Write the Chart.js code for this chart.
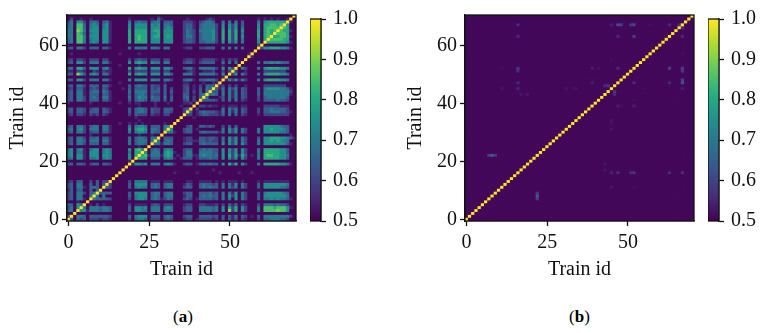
<!DOCTYPE html>
<html>
<head>
<meta charset="utf-8">
<title>Train id similarity</title>
<script src="https://cdn.jsdelivr.net/npm/chart.js@4"></script>
<style>
    body { margin: 0; background: #fff; width: 761px; height: 333px; overflow: hidden; }
    canvas { position: absolute; top: 0; filter: blur(0.35px); }
    .caption { position: absolute; top: 307px; font: 17px "Liberation Serif", serif; color: #000; }
</style>
</head>
<body>
<canvas id="heatA" width="300" height="282" style="left:0"></canvas>
<canvas id="barA" width="70" height="240" style="left:310px"></canvas>
<canvas id="heatB" width="300" height="282" style="left:398px"></canvas>
<canvas id="barB" width="55" height="240" style="left:708px"></canvas>
<div class="caption" style="left:173px">(<b>a</b>)</div>
<div class="caption" style="left:569px">(<b>b</b>)</div>
<script>
// tick labels
var xTicks = [0, 25, 50];
var yTicks = [0, 20, 40, 60];
var barTicks = [0.5, 0.6, 0.7, 0.8, 0.9, 1.0];
var trainIds = [];
for (var n = 0; n < 71; n++) {
    trainIds.push(String(n));
}

// panel (a), lower triangle, row 0 first. digit d = 0.5 + d * 0.05, a = 1.0
var rowsA = [
    "a",
    "3a",
    "00a",
    "340a",
    "2405a",
    "33054a",
    "000100a",
    "2304410a",
    "23044004a",
    "230442034a",
    "1303300303 a",
    "2304410343 0a",
    "2304400303 03a",
    "1203300203 022a",
    "0000000000 0000a",
    "0000000000 00000a",
    "0000000000 000000a",
    "0000000000 0000000a",
    "0000000000 00000000a",
    "2303320233 033200000a",
    "0000000000 0000000001 a",
    "3405510445 0454000005 0a",
    "4505510555 0554000005 06a",
    "4504410555 0454000004 066a",
    "3504510455 0454000005 0675a",
    "0000000000 0000000000 00100a",
    "2304420333 0331000004 034430a",
    "2304430444 0441000004 0344404a",
    "2304420334 0331000004 03443044a",
    "0000000100 0000000000 001000100a",
    "2304420233 0331000004 0455404330 a",
    "3404520444 0441000005 0566504430 4a",
    "2304420344 0441000004 0455403330 45a",
    "0000000000 0000001001 0101000000 100a",
    "0000000000 0000000000 0010000000 0000a",
    "0000000000 0000000000 0100000000 00000a",
    "1202210212 0210000002 0322202110 220000a",
    "2303320333 0331000003 0344303220 3320002a",
    "2303320233 0321000003 0344303220 33300023a",
    "0000000000 0000000000 0010000100 000001000a",
    "1000000100 0000001001 0110000100 0100001120 a",
    "2304420333 0331000003 0344303330 3030002302 0a",
    "2304420343 0441000004 0354404330 4030003402 03a",
    "2304410333 0331000003 0344303220 3020003301 034a",
    "2304410344 0431000004 0444403330 3030002302 0304a",
    "1203310232 0320000103 0333303230 3020002301 03043a",
    "2304420333 0331000003 0343303220 3000002201 020333a",
    "0000000000 0000001000 0000000000 1000001100 0010011a",
    "3305520444 0441000005 0555505440 4420003441 03344420a",
    "0000000000 0000000000 0000000000 0000000000 000000001a",
    "3308630454 0441000006 0565505550 5530004441 0444442050 a",
    "1102210021 0211000002 0222202220 2200000121 0011120020 2a",
    "3406630555 0451000006 0565505550 5530003441 0444442050 52a",
    "0000000000 0000001000 0010000000 0000000000 0000000010 000a",
    "2305520444 0441000005 0565505440 4400002331 0233330040 4040a",
    "1202210222 0220000002 0232202220 2200001221 0122221020 21200a",
    "0000000000 0000000000 0000000000 0000000000 0000000000 000000a",
    "0100000000 0000001000 0010000000 0000000000 0000000000 0000001a",
    "0000000000 0000000000 0000000000 0000000000 0000000000 00000000a",
    "2304420333 0331000004 0444404430 4400001220 0223330040 404030000a",
    "0000000000 0000000000 0000000000 0000000000 0000000000 0000000002 a",
    "3407740454 0551000006 0666605550 5550002332 0334442050 5250400005 0a",
    "3407740455 0551000006 0676605550 5550002332 0344452060 6260400005 06a",
    "4407740555 0551000006 0676605660 5650002442 0344452060 6260500006 067a",
    "4407630455 0551000006 0666605560 5550002432 0344452060 6260400006 0676a",
    "4408740555 0551000006 0666605660 5550002432 0444452060 6260500006 06767a",
    "3407730455 0451000005 0555505550 4540002331 0344442050 5250400005 067777a",
    "3407730454 0451000005 0555505450 4430002331 0344442050 5250300005 0667767a",
    "2405520343 0341000004 0343303440 3330002221 0234430040 4040300004 05666666a",
    "0200100100 0000000001 0000001031 0000000100 0001210000 0000000001 010101001a",
    "0000000000 0000000000 0000000010 0000000000 0000000000 0000000000 0000000000 a"
];

// panel (b), the few cells that stand out from the background
var hotColsB = [16, 16, 16, 16, 16, 16, 11, 11, 8, 7, 9, 22, 45, 47, 52, 51, 63, 67, 66, 47, 52, 67, 39, 41, 47, 63, 39, 52, 63, 67, 67, 43, 44, 46, 31, 33, 55, 67, 52, 48, 52, 45, 45, 57, 19, 17];
var hotRowsB = [67, 63, 52, 51, 47, 45, 45, 52, 22, 22, 22, 8, 67, 67, 67, 67, 67, 66, 67, 63, 63, 63, 52, 52, 52, 52, 47, 47, 47, 47, 48, 46, 46, 43, 45, 45, 45, 45, 41, 39, 39, 34, 31, 67, 43, 43];
var hotValsB = [0.56, 0.56, 0.58, 0.56, 0.56, 0.55, 0.53, 0.52, 0.65, 0.6, 0.58, 0.65, 0.53, 0.58, 0.6, 0.58, 0.58, 0.58, 0.56, 0.53, 0.58, 0.56, 0.54, 0.52, 0.56, 0.6, 0.54, 0.56, 0.56, 0.62, 0.6, 0.56, 0.58, 0.56, 0.54, 0.52, 0.52, 0.54, 0.52, 0.52, 0.54, 0.53, 0.53, 0.52, 0.53, 0.53];

var baseLevel = 0.51;
var viridis = ['#440154', '#472d7b', '#3b528b', '#2c728e', '#21918c', '#28ae80', '#5ec962', '#addc30', '#fde725'];

function hexPart(hex, k) {
    return parseInt(hex.substr(1 + k * 2, 2), 16);
}

function colorFor(value) {
    var t = Math.min(Math.max((value - 0.5) / 0.5, 0), 1) * (viridis.length - 1);
    var low = Math.min(Math.floor(t), viridis.length - 2);
    var f = t - low, parts = [];
    for (var k = 0; k < 3; k++) {
        parts.push(Math.round(hexPart(viridis[low], k) * (1 - f) + hexPart(viridis[low + 1], k) * f));
    }
    return 'rgb(' + parts.join(',') + ')';
}

function buildMatrixA() {
    var m = [];
    for (var j = 0; j < rowsA.length; j++) {
        m.push([]);
        for (var i = 0; i < rowsA.length; i++) {
            var s = rowsA[Math.max(i, j)].replace(/ /g, '');
            var d = parseInt(s.charAt(Math.min(i, j)), 16);
            m[j].push(d > 0 ? 0.5 + d * 0.05 : baseLevel);
        }
    }
    return m;
}

function buildMatrixB() {
    var m = [];
    for (var j = 0; j < trainIds.length; j++) {
        m.push([]);
        for (var i = 0; i < trainIds.length; i++) {
            m[j].push(i === j ? 1 : baseLevel);
        }
    }
    for (var h = 0; h < hotColsB.length; h++) {
        m[hotRowsB[h]][hotColsB[h]] = hotValsB[h];
        m[hotColsB[h]][hotRowsB[h]] = hotValsB[h];
    }
    return m;
}

var tickFont = {family: '"Liberation Serif", serif', size: 20};

// plot background against the seams between cells, and the box chart.js does not draw
var framePlugin = {
    id: 'frame',
    beforeDatasetsDraw: function (chart) {
        var a = chart.chartArea, ctx = chart.ctx;
        ctx.save();
        ctx.fillStyle = colorFor(baseLevel);
        ctx.fillRect(a.left, a.top, a.right - a.left, a.bottom - a.top);
        ctx.restore();
    },
    afterDraw: function (chart) {
        var a = chart.chartArea, ctx = chart.ctx;
        ctx.save();
        ctx.strokeStyle = '#111';
        ctx.lineWidth = 1.3;
        ctx.strokeRect(a.left, a.top, a.right - a.left, a.bottom - a.top);
        ctx.restore();
    }
};

function createHeatmap(idChart, matrix) {
    var datasets = [];
    for (var j = 0; j < matrix.length; j++) {
        var data = [], colors = [];
        for (var i = 0; i < matrix.length; i++) {
            data.push([j - 0.5, j + 0.5]);
            colors.push(colorFor(matrix[j][i]));
        }
        datasets.push({data: data, backgroundColor: colors, borderWidth: 0, barPercentage: 1, categoryPercentage: 1, grouped: false});
    }
    new Chart(document.getElementById(idChart).getContext('2d'), {
        type: 'bar',
        data: {labels: trainIds, datasets: datasets},
        plugins: [framePlugin],
        options: {
            responsive: false,
            animation: false,
            events: [],
            layout: {padding: {top: 15, right: 4}},
            plugins: {legend: {display: false}, tooltip: {enabled: false}},
            scales: {
                x: {
                    afterBuildTicks: function (scale) {
                        scale.ticks = xTicks.map(function (v) { return {value: v}; });
                    },
                    afterFit: function (scale) { scale.height = 61; },
                    grid: {drawOnChartArea: false, offset: false, tickLength: 5, tickColor: '#111', tickWidth: 1.3},
                    border: {color: '#111', width: 1.3},
                    ticks: {autoSkip: false, maxRotation: 0, color: '#111', font: tickFont, padding: 5},
                    title: {display: true, text: 'Train id', color: '#111', font: tickFont, padding: 0}
                },
                y: {
                    min: -0.5,
                    max: 70.5,
                    afterBuildTicks: function (scale) {
                        scale.ticks = yTicks.map(function (v) { return {value: v}; });
                    },
                    afterFit: function (scale) { scale.width = 67; },
                    grid: {drawOnChartArea: false, tickLength: 5, tickColor: '#111', tickWidth: 1.3},
                    border: {color: '#111', width: 1.3},
                    ticks: {color: '#111', font: tickFont, padding: 3},
                    title: {display: true, text: 'Train id', color: '#111', font: tickFont, padding: {top: 6, bottom: 0}}
                }
            }
        }
    });
}

function barGradient(context) {
    var area = context.chart.chartArea;
    if (!area) {
        return viridis[0];
    }
    var g = context.chart.ctx.createLinearGradient(0, area.bottom, 0, area.top);
    viridis.forEach(function (c, k) {
        g.addColorStop(k / (viridis.length - 1), c);
    });
    return g;
}

function createColorbar(idChart, canvasWidth) {
    new Chart(document.getElementById(idChart).getContext('2d'), {
        type: 'bar',
        data: {labels: [''], datasets: [{data: [[0.5, 1]], backgroundColor: barGradient, borderWidth: 0, barPercentage: 1, categoryPercentage: 1}]},
        plugins: [framePlugin],
        options: {
            responsive: false,
            animation: false,
            events: [],
            layout: {padding: {top: 15, bottom: 19}},
            plugins: {legend: {display: false}, tooltip: {enabled: false}},
            scales: {
                x: {display: false},
                y: {
                    position: 'right',
                    min: 0.5,
                    max: 1,
                    afterBuildTicks: function (scale) {
                        scale.ticks = barTicks.map(function (v) { return {value: v}; });
                    },
                    afterFit: function (scale) { scale.width = canvasWidth - 11; },
                    grid: {drawOnChartArea: false, tickLength: 5, tickColor: '#111', tickWidth: 1.3},
                    border: {color: '#111', width: 1.3},
                    ticks: {
                        color: '#111',
                        font: tickFont,
                        padding: 7,
                        callback: function (v) { return v.toFixed(1); }
                    }
                }
            }
        }
    });
}

createHeatmap('heatA', buildMatrixA());
createHeatmap('heatB', buildMatrixB());
createColorbar('barA', 70);
createColorbar('barB', 55);
</script>
</body>
</html>
